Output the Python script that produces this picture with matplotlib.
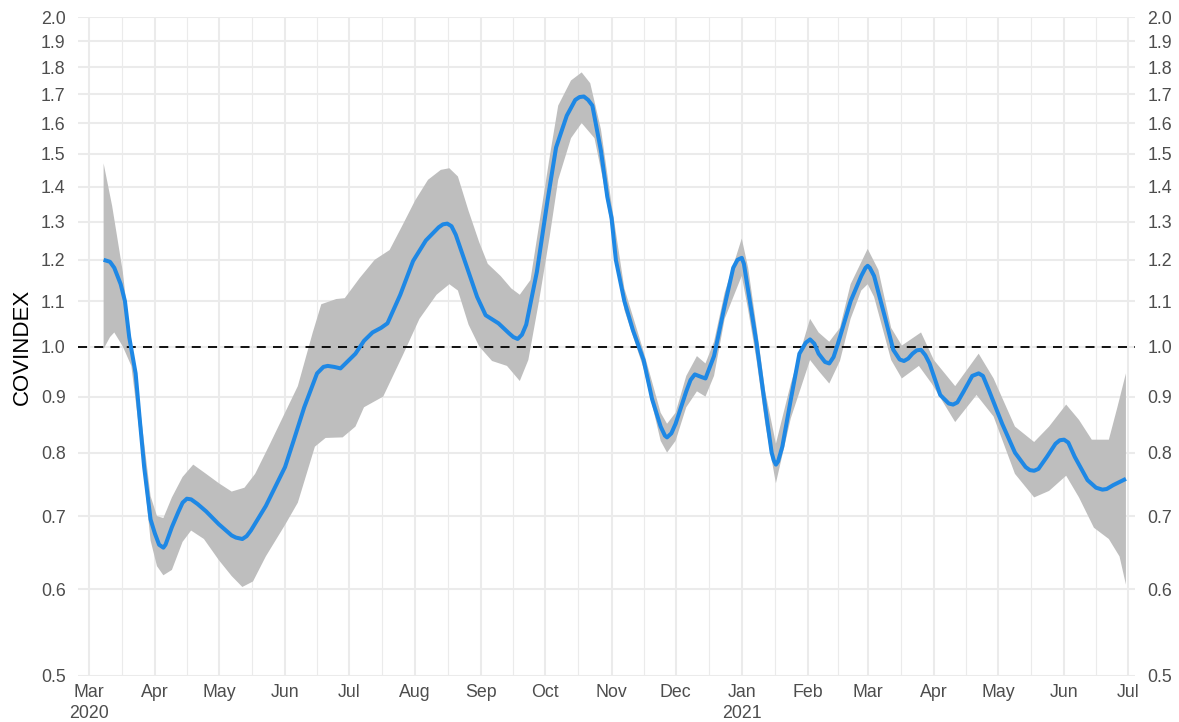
import matplotlib
matplotlib.use("Agg")
import matplotlib.pyplot as plt
import matplotlib.dates as mdates
import matplotlib.ticker as mticker
import numpy as np
import pandas as pd

# smoothed COVINDEX estimate
mid_dates = [
    "2020-03-08", "2020-03-11", "2020-03-13", "2020-03-16", "2020-03-18", "2020-03-20",
    "2020-03-23", "2020-03-25", "2020-03-27", "2020-03-30", "2020-04-01", "2020-04-03",
    "2020-04-05", "2020-04-06", "2020-04-09", "2020-04-12", "2020-04-14", "2020-04-16",
    "2020-04-18", "2020-04-21", "2020-04-25", "2020-05-01", "2020-05-07", "2020-05-09",
    "2020-05-12", "2020-05-14", "2020-05-16", "2020-05-23", "2020-06-01", "2020-06-05",
    "2020-06-10", "2020-06-16", "2020-06-19", "2020-06-21", "2020-06-24", "2020-06-27",
    "2020-07-04", "2020-07-08", "2020-07-12", "2020-07-16", "2020-07-19", "2020-07-25",
    "2020-07-31", "2020-08-06", "2020-08-12", "2020-08-14", "2020-08-16", "2020-08-18",
    "2020-08-20", "2020-08-25", "2020-08-30", "2020-09-03", "2020-09-09", "2020-09-14",
    "2020-09-16", "2020-09-18", "2020-09-20", "2020-09-22", "2020-09-27", "2020-10-02",
    "2020-10-06", "2020-10-11", "2020-10-15", "2020-10-17", "2020-10-19", "2020-10-21",
    "2020-10-23", "2020-10-27", "2020-10-30", "2020-11-01", "2020-11-03", "2020-11-07",
    "2020-11-11", "2020-11-16", "2020-11-20", "2020-11-24", "2020-11-26", "2020-11-27",
    "2020-11-29", "2020-12-01", "2020-12-06", "2020-12-08", "2020-12-10", "2020-12-13",
    "2020-12-15", "2020-12-19", "2020-12-24", "2020-12-28", "2020-12-30", "2021-01-01",
    "2021-01-02", "2021-01-04", "2021-01-08", "2021-01-12", "2021-01-15", "2021-01-16",
    "2021-01-17", "2021-01-18", "2021-01-20", "2021-01-24", "2021-01-28", "2021-01-31",
    "2021-02-02", "2021-02-04", "2021-02-06", "2021-02-09", "2021-02-11", "2021-02-13",
    "2021-02-15", "2021-02-21", "2021-02-26", "2021-02-28", "2021-03-01", "2021-03-02",
    "2021-03-04", "2021-03-09", "2021-03-13", "2021-03-16", "2021-03-18", "2021-03-20",
    "2021-03-22", "2021-03-24", "2021-03-26", "2021-03-28", "2021-03-30", "2021-04-04",
    "2021-04-08", "2021-04-10", "2021-04-12", "2021-04-15", "2021-04-19", "2021-04-22",
    "2021-04-24", "2021-04-27", "2021-05-03", "2021-05-09", "2021-05-14", "2021-05-16",
    "2021-05-18", "2021-05-20", "2021-05-24", "2021-05-28", "2021-05-30", "2021-06-01",
    "2021-06-03", "2021-06-06", "2021-06-12", "2021-06-16", "2021-06-19", "2021-06-21",
    "2021-06-24", "2021-06-27", "2021-06-30",
]
mid_vals = [
    1.20, 1.195, 1.18, 1.14, 1.10, 1.02,
    0.945, 0.855, 0.776, 0.695, 0.675, 0.659,
    0.655, 0.659, 0.684, 0.706, 0.72, 0.726,
    0.725, 0.718, 0.707, 0.688, 0.672, 0.669,
    0.667, 0.671, 0.679, 0.715, 0.776, 0.82,
    0.88, 0.945, 0.958, 0.96, 0.958, 0.955,
    0.985, 1.012, 1.03, 1.04, 1.05, 1.115,
    1.197, 1.25, 1.285, 1.293, 1.295, 1.288,
    1.265, 1.185, 1.11, 1.068, 1.05, 1.028,
    1.02, 1.016, 1.025, 1.047, 1.17, 1.36,
    1.52, 1.625, 1.68, 1.69, 1.692, 1.68,
    1.66, 1.51, 1.37, 1.31, 1.20, 1.10,
    1.035, 0.972, 0.895, 0.845, 0.829, 0.826,
    0.833, 0.85, 0.91, 0.932, 0.943, 0.938,
    0.935, 0.98, 1.09, 1.18, 1.2, 1.205,
    1.19, 1.125, 1.005, 0.88, 0.80, 0.787,
    0.78, 0.785, 0.81, 0.895, 0.985, 1.008,
    1.015, 1.006, 0.985, 0.968, 0.965, 0.978,
    1.005, 1.10, 1.16, 1.18, 1.185, 1.18,
    1.16, 1.065, 0.993, 0.973, 0.97, 0.975,
    0.985, 0.992, 0.993, 0.982, 0.965, 0.903,
    0.887, 0.885, 0.889, 0.91, 0.94, 0.945,
    0.94, 0.91, 0.85, 0.80, 0.776, 0.771,
    0.77, 0.773, 0.793, 0.815, 0.821, 0.822,
    0.817, 0.793, 0.755, 0.743, 0.74, 0.741,
    0.747, 0.752, 0.757,
]

# upper edge of the confidence band
hi_dates = [
    "2020-03-08", "2020-03-12", "2020-03-17", "2020-03-21", "2020-03-25", "2020-03-30",
    "2020-04-02", "2020-04-05", "2020-04-09", "2020-04-14", "2020-04-19", "2020-04-25",
    "2020-05-01", "2020-05-07", "2020-05-13", "2020-05-18", "2020-05-25", "2020-06-01",
    "2020-06-07", "2020-06-14", "2020-06-18", "2020-06-25", "2020-06-29", "2020-07-06",
    "2020-07-13", "2020-07-20", "2020-07-26", "2020-08-01", "2020-08-07", "2020-08-13",
    "2020-08-17", "2020-08-21", "2020-08-26", "2020-08-31", "2020-09-04", "2020-09-10",
    "2020-09-15", "2020-09-19", "2020-09-24", "2020-09-28", "2020-10-03", "2020-10-07",
    "2020-10-13", "2020-10-18", "2020-10-22", "2020-10-27", "2020-11-01", "2020-11-07",
    "2020-11-16", "2020-11-24", "2020-11-27", "2020-12-01", "2020-12-06", "2020-12-11",
    "2020-12-15", "2020-12-19", "2020-12-24", "2021-01-01", "2021-01-04", "2021-01-08",
    "2021-01-12", "2021-01-17", "2021-01-24", "2021-02-02", "2021-02-06", "2021-02-11",
    "2021-02-16", "2021-02-21", "2021-03-01", "2021-03-06", "2021-03-12", "2021-03-17",
    "2021-03-26", "2021-04-01", "2021-04-11", "2021-04-22", "2021-04-29", "2021-05-09",
    "2021-05-18", "2021-05-25", "2021-06-02", "2021-06-08", "2021-06-14", "2021-06-22",
    "2021-06-26", "2021-06-30",
]
hi_vals = [
    1.47, 1.344, 1.17, 0.995, 0.88, 0.73,
    0.70, 0.697, 0.728, 0.76, 0.78, 0.765,
    0.75, 0.737, 0.743, 0.765, 0.815, 0.87,
    0.92, 1.03, 1.093, 1.105, 1.107, 1.155,
    1.20, 1.225, 1.29, 1.36, 1.42, 1.45,
    1.455, 1.43, 1.33, 1.245, 1.19, 1.16,
    1.13, 1.115, 1.15, 1.29, 1.49, 1.66,
    1.75, 1.78, 1.74, 1.58, 1.35, 1.13,
    0.99, 0.87, 0.85, 0.87, 0.94, 0.98,
    0.965, 1.01, 1.12, 1.255, 1.18, 1.04,
    0.91, 0.815, 0.925, 1.06, 1.03, 1.01,
    1.04, 1.14, 1.228, 1.175, 1.04, 1.002,
    1.03, 0.972, 0.92, 0.985, 0.935, 0.845,
    0.818, 0.845, 0.885, 0.857, 0.822, 0.822,
    0.88, 0.945,
]

# lower edge of the confidence band
lo_dates = [
    "2020-03-08", "2020-03-11", "2020-03-13", "2020-03-17", "2020-03-21", "2020-03-25",
    "2020-03-30", "2020-04-02", "2020-04-05", "2020-04-09", "2020-04-14", "2020-04-18",
    "2020-04-24", "2020-05-01", "2020-05-07", "2020-05-12", "2020-05-17", "2020-05-23",
    "2020-06-01", "2020-06-07", "2020-06-15", "2020-06-20", "2020-06-28", "2020-07-04",
    "2020-07-08", "2020-07-17", "2020-07-26", "2020-08-03", "2020-08-11", "2020-08-17",
    "2020-08-21", "2020-08-26", "2020-08-31", "2020-09-06", "2020-09-13", "2020-09-19",
    "2020-09-23", "2020-09-28", "2020-10-03", "2020-10-07", "2020-10-13", "2020-10-18",
    "2020-10-24", "2020-10-28", "2020-11-01", "2020-11-07", "2020-11-16", "2020-11-24",
    "2020-11-27", "2020-12-01", "2020-12-06", "2020-12-11", "2020-12-15", "2020-12-19",
    "2020-12-24", "2021-01-01", "2021-01-04", "2021-01-08", "2021-01-12", "2021-01-17",
    "2021-01-24", "2021-02-02", "2021-02-06", "2021-02-11", "2021-02-16", "2021-02-21",
    "2021-02-26", "2021-03-01", "2021-03-04", "2021-03-12", "2021-03-17", "2021-03-25",
    "2021-03-31", "2021-04-11", "2021-04-21", "2021-04-29", "2021-05-09", "2021-05-18",
    "2021-05-25", "2021-06-02", "2021-06-08", "2021-06-15", "2021-06-22", "2021-06-27",
    "2021-06-30",
]
lo_vals = [
    0.995, 1.02, 1.03, 1.0, 0.96, 0.83,
    0.665, 0.63, 0.618, 0.625, 0.663, 0.679,
    0.667, 0.638, 0.617, 0.603, 0.61, 0.643,
    0.687, 0.72, 0.81, 0.825, 0.826, 0.845,
    0.88, 0.90, 0.98, 1.06, 1.115, 1.14,
    1.125, 1.047, 1.0, 0.97, 0.96, 0.93,
    0.972, 1.10, 1.26, 1.42, 1.55, 1.60,
    1.55, 1.42, 1.28, 1.08, 0.955, 0.82,
    0.80, 0.82, 0.88, 0.91, 0.90, 0.94,
    1.06, 1.16, 1.08, 0.97, 0.85, 0.75,
    0.86, 0.972, 0.95, 0.925, 0.97, 1.06,
    1.125, 1.14, 1.11, 0.972, 0.935, 0.96,
    0.925, 0.853, 0.903, 0.863, 0.765, 0.728,
    0.738, 0.762, 0.728, 0.683, 0.667, 0.643,
    0.606,
]

y_ticks = [0.5, 0.6, 0.7, 0.8, 0.9, 1.0, 1.1, 1.2, 1.3, 1.4, 1.5, 1.6, 1.7, 1.8, 1.9, 2.0]

plt.rcParams["font.family"] = ["Liberation Sans", "DejaVu Sans"]

fig = plt.figure(figsize=(11.79, 7.22), dpi=100)
ax = fig.add_axes([78 / 1179, 46 / 722, 1057 / 1179, 659 / 722])

mid_x = mdates.date2num(pd.to_datetime(mid_dates))
hi_x = mdates.date2num(pd.to_datetime(hi_dates))
lo_x = mdates.date2num(pd.to_datetime(lo_dates))

# ribbon as one polygon: along the top, back along the bottom
band_x = np.concatenate([hi_x, lo_x[::-1]])
band_y = np.concatenate([hi_vals, lo_vals[::-1]])
ax.fill(band_x, band_y, color="#bebebe", lw=0, zorder=2)

ax.axhline(1.0, color="black", lw=1.3, ls=(0, (5, 4)), zorder=3)
ax.plot(mid_x, mid_vals, color="#1e88e5", lw=2.9, zorder=4,
        solid_capstyle="butt", solid_joinstyle="round")

ax.set_yscale("log")
ax.set_ylim(0.5, 2.0)
ax.yaxis.set_major_locator(mticker.FixedLocator(y_ticks))
ax.yaxis.set_major_formatter(mticker.FormatStrFormatter("%.1f"))
ax.yaxis.set_minor_locator(mticker.NullLocator())

ax.set_xlim(mdates.date2num(pd.Timestamp("2020-02-25")),
            mdates.date2num(pd.Timestamp("2021-07-04 06:00")))
ax.xaxis.set_major_locator(mdates.MonthLocator())
month_starts = pd.date_range("2020-02-01", "2021-08-01", freq="MS")
mids = [a + (b - a) / 2 for a, b in zip(month_starts[:-1], month_starts[1:])]
ax.xaxis.set_minor_locator(mticker.FixedLocator(mdates.date2num(mids)))


def month_label(x, pos):
    d = mdates.num2date(x)
    if d.month == 1 or (d.year == 2020 and d.month == 3):
        return d.strftime("%b\n%Y")
    return d.strftime("%b")


ax.xaxis.set_major_formatter(mticker.FuncFormatter(month_label))

ax.grid(which="major", color="#ebebeb", lw=1.5, zorder=0)
ax.grid(which="minor", axis="x", color="#ebebeb", lw=0.8, zorder=0)
ax.set_axisbelow(True)
for s in ax.spines.values():
    s.set_visible(False)

ax.tick_params(axis="both", which="both", length=0, labelsize=12.8, labelcolor="#4d4d4d")
ax.tick_params(axis="y", pad=9, labelright=True)
ax.tick_params(axis="x", pad=6)
for t in ax.get_xticklabels():
    t.set_linespacing(1.25)

ax.set_ylabel("COVINDEX", fontsize=16, color="black", labelpad=6)

fig.savefig("out.png", dpi=100)
